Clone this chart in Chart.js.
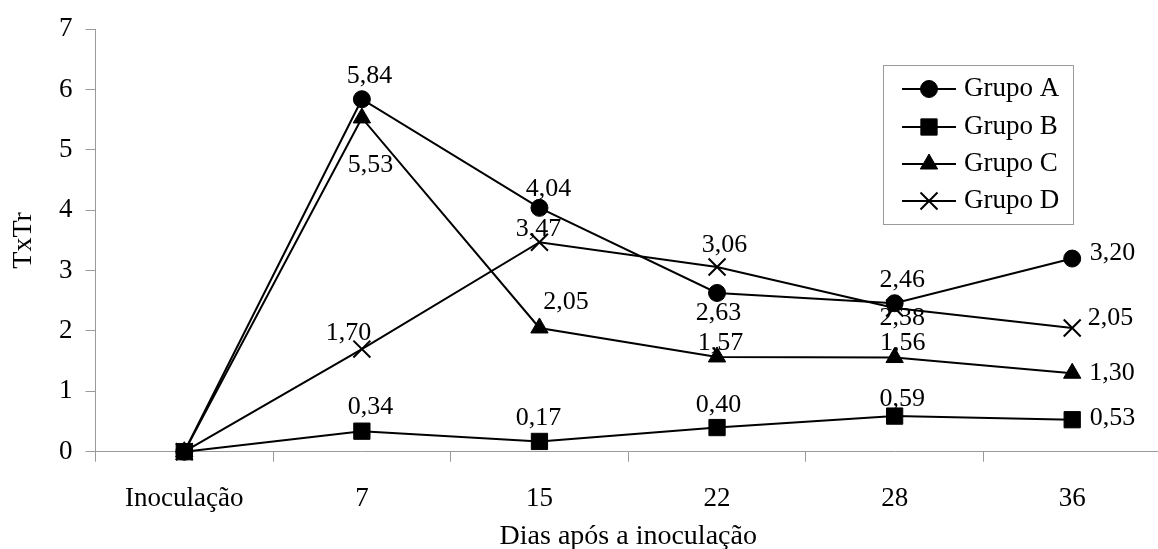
<!DOCTYPE html>
<html>
<head>
<meta charset="utf-8">
<script src="https://cdn.jsdelivr.net/npm/chart.js@4/dist/chart.umd.min.js"></script>
<style>
  html, body { margin: 0; padding: 0; background: #fff; }
  #wrap { width: 1158px; height: 549px; overflow: hidden; position: relative; }
  canvas { display: block; }
</style>
</head>
<body>
<div id="wrap"><canvas id="c" width="1175" height="556"></canvas></div>
<script>
// ---- data ----
const categories = ['Inoculação', '7', '15', '22', '28', '36'];
const seriesNames = ['Grupo A', 'Grupo B', 'Grupo C', 'Grupo D'];
const grupoA = [0, 5.84, 4.04, 2.63, 2.46, 3.20];
const grupoB = [0, 0.34, 0.17, 0.40, 0.59, 0.53];
const grupoC = [0, 5.53, 2.05, 1.57, 1.56, 1.30];
const grupoD = [0, 1.70, 3.47, 3.06, 2.38, 2.05];
const yTicks = [0, 1, 2, 3, 4, 5, 6, 7];
const xTitle = 'Dias após a inoculação';
const yTitle = 'TxTr';

// ---- value-label placement (style only): [dx, dy, align] relative to each point ----
const labelOffsets = [
  [null, [7.5, -23.5, 'c'], [9, -19, 'c'], [1.5, 20.5, 'c'], [7.7, -23.5, 'c'], [17.5, -5.7, 'l']],
  [null, [8.5, -24.3, 'c'], [-1, -23.3, 'c'], [1.5, -22.3, 'c'], [7.5, -17.4, 'c'], [17.5, -1.4, 'l']],
  [null, [8.5, 47.5, 'c'], [26.5, -25.6, 'c'], [3.5, -14.2, 'c'], [8, -14.8, 'c'], [17, 0, 'l']],
  [null, [-13.5, -16.2, 'c'], [-1, -13.2, 'c'], [7.5, -21.9, 'c'], [7.5, 10.3, 'c'], [15.5, -9.9, 'l']]
];

const FONT = "'Liberation Serif', 'Times New Roman', serif";
const AXIS_GRAY = '#9a9a9a';
const styles = [
  { pointStyle: 'circle',   radius: 8.5,  pbw: 1, order: 2 },
  { pointStyle: 'rect',     radius: 11.5, pbw: 1, order: 10 },
  { pointStyle: 'triangle', radius: 10,   pbw: 1, order: 1 },
  { pointStyle: 'crossRot', radius: 12,   pbw: 2, order: 0 }
];
const seriesData = [grupoA, grupoB, grupoC, grupoD];

function fmt(v) { return v.toFixed(2).replace('.', ','); }

const datasets = seriesData.map((d, i) => ({
  label: seriesNames[i],
  data: d,
  order: styles[i].order,
  clip: false,
  borderColor: '#000',
  backgroundColor: '#000',
  borderWidth: 2,
  pointStyle: styles[i].pointStyle,
  pointRadius: styles[i].radius,
  pointHoverRadius: styles[i].radius,
  pointBackgroundColor: '#000',
  pointBorderColor: '#000',
  pointBorderWidth: styles[i].pbw,
  tension: 0,
  fill: false
}));

function drawMarker(ctx, st, x, y) {
  ctx.save();
  ctx.fillStyle = '#000';
  ctx.strokeStyle = '#000';
  ctx.lineWidth = st.pbw;
  if (Chart.helpers && Chart.helpers.drawPoint) {
    Chart.helpers.drawPoint(ctx, { pointStyle: st.pointStyle, radius: st.radius, rotation: 0, borderWidth: st.pbw }, x, y);
  } else {
    const r = st.radius;
    ctx.beginPath();
    if (st.pointStyle === 'circle') { ctx.arc(x, y, r, 0, Math.PI * 2); ctx.fill(); }
    else if (st.pointStyle === 'rect') { const s = r * Math.SQRT1_2; ctx.rect(x - s, y - s, 2 * s, 2 * s); ctx.fill(); }
    else if (st.pointStyle === 'triangle') {
      ctx.moveTo(x, y - r); ctx.lineTo(x + r * 0.866, y + r / 2); ctx.lineTo(x - r * 0.866, y + r / 2); ctx.closePath(); ctx.fill();
    } else {
      const s = r * Math.SQRT1_2;
      ctx.moveTo(x - s, y - s); ctx.lineTo(x + s, y + s); ctx.moveTo(x + s, y - s); ctx.lineTo(x - s, y + s); ctx.stroke();
    }
  }
  ctx.restore();
}

const labelsAndLegend = {
  id: 'labelsAndLegend',
  afterDatasetsDraw(chart) {
    const ctx = chart.ctx;
    ctx.save();
    ctx.font = '26px ' + FONT;
    ctx.fillStyle = '#000';
    ctx.textBaseline = 'middle';
    chart.data.datasets.forEach((ds, i) => {
      const meta = chart.getDatasetMeta(i);
      meta.data.forEach((pt, j) => {
        const o = labelOffsets[i][j];
        if (!o) return;
        ctx.textAlign = o[2] === 'l' ? 'left' : 'center';
        ctx.fillText(fmt(ds.data[j]), pt.x + o[0], pt.y + o[1]);
      });
    });
    // legend
    const bx = 883.5, by = 65.5, bw = 190, bh = 159;
    ctx.fillStyle = '#fff';
    ctx.fillRect(bx, by, bw, bh);
    ctx.strokeStyle = AXIS_GRAY;
    ctx.lineWidth = 1;
    ctx.strokeRect(bx, by, bw, bh);
    const rowY = [89, 127, 164, 201];
    seriesNames.forEach((name, i) => {
      const y = rowY[i];
      ctx.strokeStyle = '#000';
      ctx.lineWidth = 2;
      ctx.beginPath();
      ctx.moveTo(902, y); ctx.lineTo(956, y);
      ctx.stroke();
      drawMarker(ctx, styles[i], 929, y);
      ctx.fillStyle = '#000';
      ctx.textAlign = 'left';
      ctx.textBaseline = 'middle';
      ctx.font = '27px ' + FONT;
      ctx.fillText(name, 964, y);
    });
    ctx.restore();
  }
};

new Chart(document.getElementById('c'), {
  type: 'line',
  data: { labels: categories, datasets },
  options: {
    responsive: false,
    animation: false,
    events: [],
    layout: { padding: { top: 24.5, left: 0, right: 0, bottom: 0 } },
    plugins: { legend: { display: false }, tooltip: { enabled: false } },
    scales: {
      x: {
        type: 'category',
        offset: true,
        grid: { offset: true, drawOnChartArea: false, drawTicks: true, tickLength: 10, color: AXIS_GRAY },
        border: { color: AXIS_GRAY, width: 1 },
        ticks: { color: '#000', font: { family: FONT, size: 27 }, padding: 20.7, maxRotation: 0, autoSkip: false },
        title: { display: true, text: xTitle, color: '#000', font: { family: FONT, size: 28 }, padding: { top: 0, bottom: 3 } },
        afterFit(s) { s.height = 104.3; }
      },
      y: {
        min: yTicks[0],
        max: yTicks[yTicks.length - 1],
        afterBuildTicks(s) { s.ticks = yTicks.map(v => ({ value: v })); },
        grid: { drawOnChartArea: false, drawTicks: true, tickLength: 10, color: AXIS_GRAY },
        border: { color: AXIS_GRAY, width: 1 },
        ticks: { color: '#000', font: { family: FONT, size: 27 }, padding: 13 },
        title: { display: true, text: yTitle, color: '#000', font: { family: FONT, size: 28 }, padding: { top: 7, bottom: 0 } },
        afterFit(s) { s.width = 95.5; }
      }
    }
  },
  plugins: [labelsAndLegend]
});
</script>
</body>
</html>
